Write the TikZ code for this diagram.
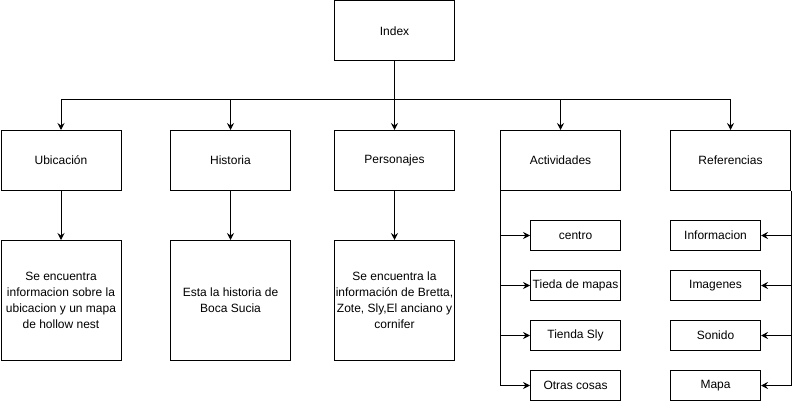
\documentclass[tikz,border=0pt]{standalone}
\usepackage{fontspec}
\setmainfont{Liberation Sans}
\usetikzlibrary{arrows.meta}
\begin{document}
\begin{tikzpicture}[x=1pt,y=-1pt,
  box/.style={draw,line width=1pt,inner sep=0pt,font=\fontsize{12}{16}\selectfont,align=center,anchor=north west},
  bigbox/.style={box,minimum width=120pt,minimum height=60pt},
  tallbox/.style={box,minimum width=120pt,minimum height=120pt},
  smallbox/.style={box,minimum width=90pt,minimum height=30pt},
  conn/.style={line width=1pt,-{Stealth[length=7pt,width=7pt,inset=2.5pt]}}]
\useasboundingbox (0,0) rectangle (799,401);
\node[bigbox] (index) at (334,0.5) {Index};
\node[bigbox] (ubi) at (0.5,130) {Ubicación};
\node[bigbox] (his) at (170,130) {Historia};
\node[bigbox] (per) at (334,130) {Personajes};
\node[bigbox] (act) at (500,130) {Actividades};
\node[bigbox] (ref) at (670,130) {Referencias};
\node[tallbox] (ubit) at (0.5,240) {Se encuentra\\informacion sobre la\\ubicacion y un mapa\\de hollow nest};
\node[tallbox] (hist) at (170,240) {Esta la historia de\\Boca Sucia};
\node[tallbox] (pert) at (334,240) {Se encuentra la\\información de Bretta,\\Zote, Sly,El anciano y\\cornifer};
\node[smallbox] (a1) at (530,220) {centro};
\node[smallbox] (a2) at (530,270) {Tieda de mapas};
\node[smallbox] (a3) at (530,320) {Tienda Sly};
\node[smallbox] (a4) at (530,370) {Otras cosas};
\node[smallbox] (r1) at (670,220) {Informacion};
\node[smallbox] (r2) at (670,270) {Imagenes};
\node[smallbox] (r3) at (670,320) {Sonido};
\node[smallbox] (r4) at (670,370) {Mapa};
\coordinate (bus) at (0,100);
\foreach \t in {ubi,his,per,act,ref}{
  \draw[conn] (index.south) |- (bus -| \t.north) -- (\t.north);
}
\draw[conn] (ubi.south) -- (ubit.north);
\draw[conn] (his.south) -- (hist.north);
\draw[conn] (per.south) -- (pert.north);
\foreach \b in {a1,a2,a3,a4}{
  \draw[conn] (act.south west) |- (\b.west);
}
\foreach \b in {r1,r2,r3,r4}{
  \draw[conn] (ref.south east) |- (\b.east);
}
\end{tikzpicture}
\end{document}
